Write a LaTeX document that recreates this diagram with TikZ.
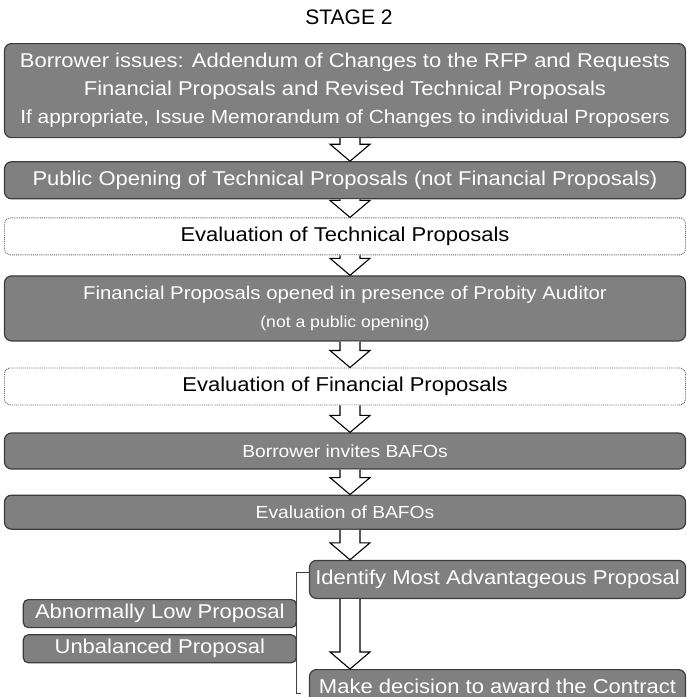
\documentclass[tikz,border=0pt]{standalone}
\usepackage{fontspec}
\setmainfont{Liberation Sans}
\newfontfamily\boxfont{Liberation Sans}[FakeStretch=1.1]
\usepackage{tikz}
\usetikzlibrary{positioning, calc}
\definecolor{boxgray}{RGB}{128,128,128}
\definecolor{edgegray}{RGB}{60,60,60}
\definecolor{dotgray}{RGB}{95,95,95}
\tikzset{
  graybox/.style={rectangle, draw=edgegray, fill=boxgray, text=white,
    minimum width=681pt, align=center, inner sep=0pt,
    font=\boxfont\fontsize{20}{28}\selectfont, rounded corners=7pt, line width=1.2pt},
  whitebox/.style={rectangle, draw=dotgray, densely dotted, fill=white, text=black,
    minimum width=681pt, align=center, inner sep=0pt,
    font=\boxfont\fontsize{20}{24}\selectfont, rounded corners=6pt, line width=0.9pt},
  sidebox/.style={graybox, minimum width=273pt, minimum height=28pt, rounded corners=5pt},
  hollow/.style={draw=black, fill=white, line width=1.1pt, line join=miter},
  bracket/.style={draw=black!75, line width=0.8pt}
}
% hollow block arrow from the bottom of one box to the top of the next
\newcommand{\flowarrow}[2]{%
  \draw[hollow] let \p1=(#1.south -| ax), \p2=(#2.north -| ax) in
    (\x1-10pt,\y1) -- (\x1-10pt,\y2+17pt) -- (\x1-20pt,\y2+17pt) -- (\x2,\y2)
    -- (\x1+20pt,\y2+17pt) -- (\x1+10pt,\y2+17pt) -- (\x1+10pt,\y1);}

\begin{document}
\begin{tikzpicture}[x=1pt, y=-1pt]
  \useasboundingbox (0,0) rectangle (687,697);
  \coordinate (ax) at (350,0);
  \node[font=\fontsize{21}{24}\selectfont] (title) at (349,17) {STAGE 2};
  \node[graybox, minimum height=94pt, anchor=north] (issue) at (345,43)
    {Borrower issues: Addendum of Changes to the RFP and Requests\\
     Financial Proposals and Revised Technical Proposals\\
     {\fontsize{19}{26}\selectfont If appropriate, Issue Memorandum of Changes to individual Proposers}};
  \node[graybox, minimum height=37pt, below=23pt of issue] (pubopen)
    {Public Opening of Technical Proposals (not Financial Proposals)};
  \node[whitebox, minimum height=37pt, below=18pt of pubopen] (evaltech)
    {Evaluation of Technical Proposals};
  \node[graybox, minimum height=65pt, below=20pt of evaltech] (finopen)
    {{\fontsize{18.5}{28}\selectfont Financial Proposals opened in presence of Probity Auditor}\\
     {\fontsize{16}{24}\selectfont (not a public opening)}};
  \node[whitebox, minimum height=37pt, below=26pt of finopen] (evalfin)
    {Evaluation of Financial Proposals};
  \node[graybox, minimum height=36pt, below=27pt of evalfin,
    font=\boxfont\fontsize{17.5}{22}\selectfont] (invite)
    {Borrower invites BAFOs};
  \node[graybox, minimum height=34pt, below=25pt of invite,
    font=\boxfont\fontsize{17.5}{22}\selectfont] (evalbafo)
    {Evaluation of BAFOs};
  \node[graybox, minimum width=376pt, minimum height=38pt,
    below=30pt of evalbafo.south east, anchor=north east] (mostadv)
    {Identify Most Advantageous Proposal};
  \node[graybox, minimum width=376pt, minimum height=34pt, below=70pt of mostadv] (award)
    {Make decision to award the Contract};
  \node[sidebox, anchor=north east] (lowprop) at ([xshift=-12pt]mostadv.south west)
    {Abnormally Low Proposal};
  \node[sidebox, below=6pt of lowprop] (unbal) {Unbalanced Proposal};
  \flowarrow{issue}{pubopen}
  \flowarrow{pubopen}{evaltech}
  \flowarrow{evaltech}{finopen}
  \flowarrow{finopen}{evalfin}
  \flowarrow{evalfin}{invite}
  \flowarrow{invite}{evalbafo}
  \flowarrow{evalbafo}{mostadv}
  \flowarrow{mostadv}{award}
  \draw[bracket] ([yshift=-13pt]mostadv.north west) -- ++(-13,0)
    |- ([xshift=-8pt,yshift=-7pt]award.west);
\end{tikzpicture}
\end{document}
